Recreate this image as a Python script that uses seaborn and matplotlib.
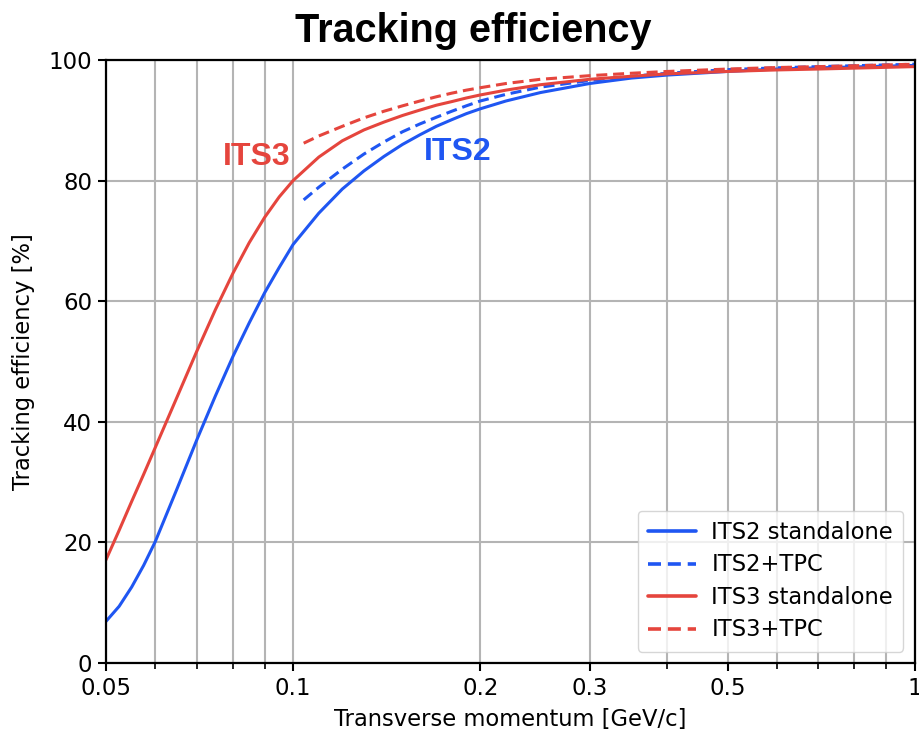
import matplotlib
matplotlib.use("Agg")
import matplotlib.pyplot as plt
import matplotlib.ticker as mticker
import pandas as pd
import seaborn as sns

# Transverse momentum sample points [GeV/c] and tracking efficiency [%]
pt_standalone = [0.05, 0.0525, 0.055, 0.0575, 0.06, 0.065, 0.07, 0.075, 0.08,
                 0.085, 0.09, 0.095, 0.10, 0.11, 0.12, 0.13, 0.14, 0.15, 0.16,
                 0.17, 0.18, 0.19, 0.20, 0.22, 0.25, 0.30, 0.35, 0.40, 0.50,
                 0.60, 0.70, 0.80, 1.00]
eff_its2_sa = [6.9, 9.4, 12.6, 16.2, 20.1, 28.8, 37.0, 44.3, 50.8,
               56.4, 61.4, 65.6, 69.4, 74.6, 78.6, 81.6, 84.0, 86.0, 87.6,
               89.0, 90.1, 91.1, 91.9, 93.2, 94.6, 96.1, 97.0, 97.5, 98.1,
               98.5, 98.7, 98.85, 99.1]
eff_its3_sa = [17.1, 22.0, 26.8, 31.3, 35.7, 44.0, 51.7, 58.6, 64.6,
               69.7, 73.9, 77.3, 80.0, 83.9, 86.6, 88.4, 89.7, 90.8, 91.7,
               92.5, 93.1, 93.7, 94.2, 95.0, 95.9, 96.8, 97.3, 97.7, 98.1,
               98.35, 98.5, 98.65, 98.9]

pt_tpc = [0.104, 0.11, 0.12, 0.13, 0.14, 0.15, 0.16, 0.17, 0.18, 0.19, 0.20,
          0.22, 0.25, 0.30, 0.35, 0.40, 0.50, 0.60, 0.70, 0.80, 1.00]
eff_its2_tpc = [76.8, 78.9, 81.9, 84.4, 86.4, 88.1, 89.4, 90.5, 91.5, 92.4, 93.2,
                94.3, 95.5, 96.6, 97.3, 97.8, 98.4, 98.7, 98.9, 99.05, 99.3]
eff_its3_tpc = [86.2, 87.4, 89.0, 90.4, 91.5, 92.4, 93.2, 93.9, 94.5, 95.0, 95.4,
                96.1, 96.8, 97.4, 97.8, 98.1, 98.5, 98.75, 98.9, 99.05, 99.3]

series_names = ["ITS2 standalone", "ITS2+TPC", "ITS3 standalone", "ITS3+TPC"]
tick_values = [0.05, 0.1, 0.2, 0.3, 0.5, 1.0]
tick_labels = ["0.05", "0.1", "0.2", "0.3", "0.5", "1"]
minor_values = [0.06, 0.07, 0.08, 0.09, 0.4, 0.6, 0.7, 0.8, 0.9]

df = pd.concat([
    pd.DataFrame({"pt": pt_standalone, "eff": eff_its2_sa, "series": series_names[0]}),
    pd.DataFrame({"pt": pt_tpc, "eff": eff_its2_tpc, "series": series_names[1]}),
    pd.DataFrame({"pt": pt_standalone, "eff": eff_its3_sa, "series": series_names[2]}),
    pd.DataFrame({"pt": pt_tpc, "eff": eff_its3_tpc, "series": series_names[3]}),
], ignore_index=True)

blue = "#1f56f2"
red = "#e5453d"
palette = dict(zip(series_names, [blue, blue, red, red]))
dash_pattern = (3.6, 1.9)
dashes = dict(zip(series_names, ["", dash_pattern, "", dash_pattern]))

sns.set_style("ticks")
plt.rcParams["font.family"] = ["DejaVu Sans"]
plt.rcParams["text.color"] = "black"
plt.rcParams["axes.labelcolor"] = "black"
plt.rcParams["xtick.color"] = "black"
plt.rcParams["ytick.color"] = "black"

fig = plt.figure(figsize=(9.19, 7.37), dpi=100)
ax = fig.add_axes([0.1153, 0.1004, 0.880, 0.8182])

sns.lineplot(data=df, x="pt", y="eff", hue="series", style="series",
             palette=palette, dashes=dashes, hue_order=series_names,
             style_order=series_names, linewidth=2.2, ax=ax, legend="full",
             sort=True)

ax.set_xscale("log")
ax.set_xlim(0.05, 1.0)
ax.set_ylim(0, 100)
ax.xaxis.set_major_locator(mticker.FixedLocator(tick_values))
ax.xaxis.set_major_formatter(mticker.FixedFormatter(tick_labels))
ax.xaxis.set_minor_locator(mticker.FixedLocator(minor_values))
ax.xaxis.set_minor_formatter(mticker.NullFormatter())
ax.set_yticks([0, 20, 40, 60, 80, 100])

ax.grid(True, which="major", axis="both", color="#b4b4b4", linewidth=1.5)
ax.grid(True, which="minor", axis="x", color="#b4b4b4", linewidth=1.5)
ax.set_axisbelow(True)

for side in ["left", "right", "top", "bottom"]:
    ax.spines[side].set_visible(True)
    ax.spines[side].set_linewidth(1.6)
    ax.spines[side].set_color("black")

ax.tick_params(axis="both", which="major", labelsize=16.5, length=6, width=1.5,
               color="black", pad=4)
ax.tick_params(axis="x", which="minor", length=4, width=1.2, color="black")

ax.set_xlabel("Transverse momentum [GeV/c]", fontsize=16.3)
ax.set_ylabel("Tracking efficiency [%]", fontsize=16.3)
ax.xaxis.set_label_coords(0.5, -0.074)
ax.yaxis.set_label_coords(-0.088, 0.5)

narrow = ["Liberation Sans Narrow", "Liberation Sans", "DejaVu Sans"]
fig.text(0.515, 0.958, "Tracking efficiency", ha="center", va="center",
         fontsize=28.5, fontweight="bold", family=narrow, color="black")

ax.text(0.0875, 83.9, "ITS3", color=red, fontsize=23, fontweight="bold",
        family=narrow, ha="center", va="center")
ax.text(0.184, 84.7, "ITS2", color=blue, fontsize=23, fontweight="bold",
        family=narrow, ha="center", va="center")

leg = ax.legend(loc="lower right", fontsize=16.3, frameon=True, framealpha=0.8,
                edgecolor="#cccccc", handlelength=2.1, borderpad=0.45,
                labelspacing=0.42, handletextpad=0.7,
                bbox_to_anchor=(1.0, 0.0))
leg.get_frame().set_linewidth(1.0)
for line in leg.get_lines():
    line.set_linewidth(2.6)

fig.savefig("out.png", dpi=100)
